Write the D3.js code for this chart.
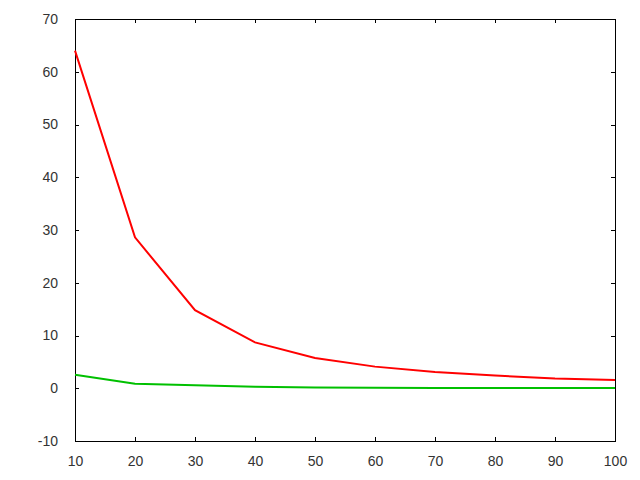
<!DOCTYPE html>
<html>
<head>
<meta charset="utf-8">
<script src="https://cdn.jsdelivr.net/npm/d3@7"></script>
<style>
  html, body { margin: 0; padding: 0; background: #fff; }
  svg { display: block; }
</style>
</head>
<body>
<svg id="chart" width="640" height="480"></svg>
<script>
const xValues = [10, 20, 30, 40, 50, 60, 70, 80, 90, 100];
const redSeries = [64, 28.6, 14.8, 8.7, 5.75, 4.1, 3.1, 2.4, 1.85, 1.56];
const greenSeries = [2.57, 0.87, 0.55, 0.3, 0.12, 0.09, 0.07, 0.06, 0.05, 0.05];
const xTicks = [10, 20, 30, 40, 50, 60, 70, 80, 90, 100];
const yTicks = [-10, 0, 10, 20, 30, 40, 50, 60, 70];

const margin = { left: 75, right: 25, top: 19, bottom: 39 };
const W = 640, H = 480;
const svg = d3.select("#chart");

const x = d3.scaleLinear().domain([10, 100]).range([margin.left, W - margin.right]);
const y = d3.scaleLinear().domain([-10, 70]).range([H - margin.bottom, margin.top]);

const tickLen = 4;
const fmt = d => String(d);

const axBottom = svg.append("g").attr("transform", `translate(0,${H - margin.bottom})`)
  .call(d3.axisBottom(x).tickValues(xTicks).tickFormat(fmt).tickSizeInner(-tickLen).tickSizeOuter(0).tickPadding(15));
const axTop = svg.append("g").attr("transform", `translate(0,${margin.top})`)
  .call(d3.axisTop(x).tickValues(xTicks).tickSizeInner(-tickLen).tickSizeOuter(0).tickFormat(""));
const axLeft = svg.append("g").attr("transform", `translate(${margin.left},0)`)
  .call(d3.axisLeft(y).tickValues(yTicks).tickFormat(fmt).tickSizeInner(-tickLen).tickSizeOuter(0).tickPadding(17));
const axRight = svg.append("g").attr("transform", `translate(${W - margin.right},0)`)
  .call(d3.axisRight(y).tickValues(yTicks).tickSizeInner(-tickLen).tickSizeOuter(0).tickFormat(""));

[axBottom, axTop, axLeft, axRight].forEach(g => {
  g.select(".domain").remove();
  g.selectAll("line").attr("stroke", "#000").attr("shape-rendering", "crispEdges");
  g.selectAll("text").attr("font-family", "Liberation Sans, Arial, sans-serif").attr("font-size", 14).attr("fill", "#333");
});

svg.append("rect")
  .attr("x", margin.left).attr("y", margin.top)
  .attr("width", W - margin.left - margin.right)
  .attr("height", H - margin.top - margin.bottom)
  .attr("fill", "none").attr("stroke", "#000").attr("stroke-width", 1)
  .attr("shape-rendering", "crispEdges");

const line = d3.line().x((d, i) => x(xValues[i])).y(d => y(d));

svg.append("path").datum(redSeries)
  .attr("d", line).attr("fill", "none").attr("stroke", "#ff0000").attr("stroke-width", 2);
svg.append("path").datum(greenSeries)
  .attr("d", line).attr("fill", "none").attr("stroke", "#00c000").attr("stroke-width", 2);
</script>
</body>
</html>
